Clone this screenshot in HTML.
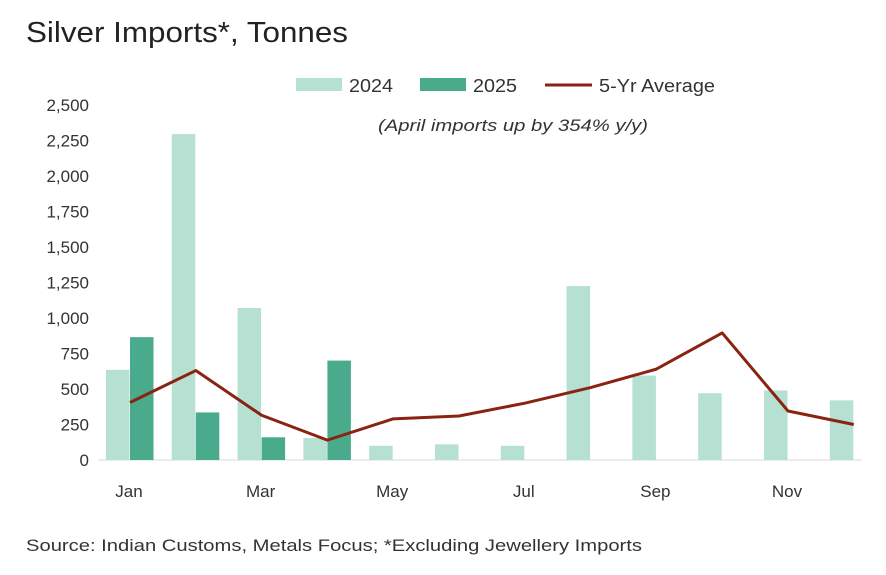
<!DOCTYPE html>
<html><head><meta charset="utf-8"><style>
body{margin:0;background:#fff;font-family:"Liberation Sans",sans-serif;}
svg text{font-family:"Liberation Sans",sans-serif;}
</style></head><body>
<svg id="chart" width="886" height="570">
<text x="26" y="42" font-size="29" fill="#222" textLength="322" lengthAdjust="spacingAndGlyphs">Silver Imports*, Tonnes</text>
<g>
<rect x="296" y="78" width="46" height="13" fill="#b5e0d2"/>
<text x="349" y="92" font-size="18" fill="#333" textLength="44" lengthAdjust="spacingAndGlyphs">2024</text>
<rect x="420" y="78" width="46" height="13" fill="#4aaa8c"/>
<text x="473" y="92" font-size="18" fill="#333" textLength="44" lengthAdjust="spacingAndGlyphs">2025</text>
<line x1="545" y1="85" x2="592" y2="85" stroke="#8b2312" stroke-width="3"/>
<text x="599" y="92" font-size="18" fill="#333" textLength="116" lengthAdjust="spacingAndGlyphs">5-Yr Average</text>
</g>
<text x="378" y="131" font-size="17" font-style="italic" fill="#333" textLength="270" lengthAdjust="spacingAndGlyphs">(April imports up by 354% y/y)</text>
<g id="axes"></g><g id="bars"></g><g id="line"></g>
<text x="26" y="551" font-size="17" fill="#333" textLength="616" lengthAdjust="spacingAndGlyphs">Source: Indian Customs, Metals Focus; *Excluding Jewellery Imports</text>
</svg>
<script>
const months=["Jan","Feb","Mar","Apr","May","Jun","Jul","Aug","Sep","Oct","Nov","Dec"];
const v2024=[635,2295,1070,155,100,110,100,1225,595,470,490,420];
const v2025=[865,335,160,700,null,null,null,null,null,null,null,null];
const avg5=[405,630,315,140,290,310,400,510,640,895,345,250];
const yTicks=[0,250,500,750,1000,1250,1500,1750,2000,2250,2500];
const xLabelIdx=[0,2,4,6,8,10];
const NS="http://www.w3.org/2000/svg";
const y=v=>460-v*355/2500;
const x=i=>130+i*65.8;
function mk(t,a,p){const e=document.createElementNS(NS,t);for(const k in a)e.setAttribute(k,a[k]);p.appendChild(e);return e;}
const ax=document.getElementById('axes');
yTicks.forEach(t=>{const e=mk('text',{x:89,y:y(t)+6,'font-size':17,fill:'#333','text-anchor':'end'},ax);
e.textContent=t.toLocaleString('en-US');

});
const base=mk('line',{x1:98,x2:862,y1:460,y2:460,stroke:'#d9d9d9','stroke-width':1},ax);


xLabelIdx.forEach(i=>{const e=mk('text',{x:x(i)-1,y:497,'font-size':17,fill:'#333','text-anchor':'middle'},ax);
e.textContent=months[i];

});
const bg=document.getElementById('bars');
months.forEach((m,i)=>{
const a=mk('rect',{x:x(i)-24,y:y(v2024[i]),width:23.5,height:460-y(v2024[i]),fill:'#b5e0d2'},bg);


if(v2025[i]!=null){const b=mk('rect',{x:x(i),y:y(v2025[i]),width:23.5,height:460-y(v2025[i]),fill:'#4aaa8c'},bg);

}
});
const pl=mk('polyline',{points:avg5.map((v,i)=>x(i)+','+y(v)).join(' '),fill:'none',stroke:'#8b2312','stroke-width':3,'stroke-linejoin':'round'},document.getElementById('line'));


</script>
</body></html>
